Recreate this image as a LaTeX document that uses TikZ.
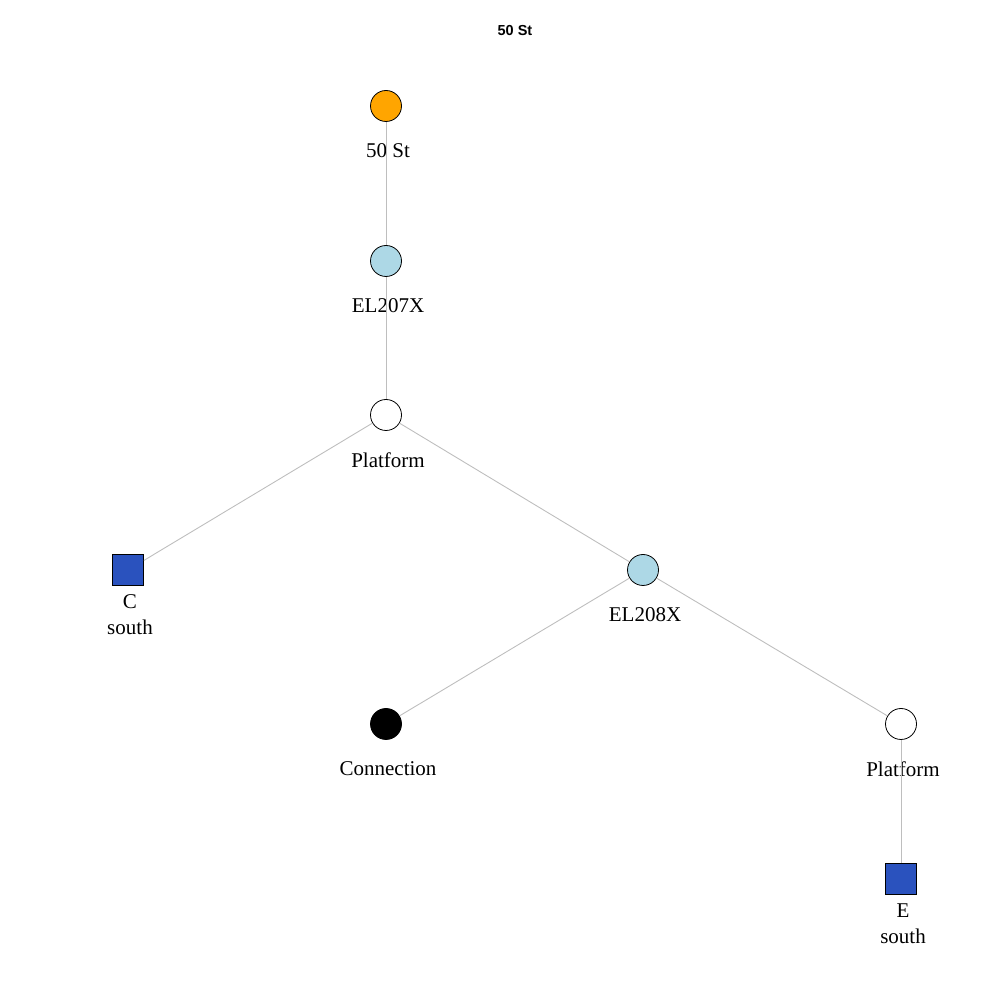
\documentclass[tikz,border=0pt]{standalone}
\usepackage{fontspec}
\setmainfont{Liberation Serif}
\newfontfamily\titlefont{Liberation Sans}
\definecolor{stnorange}{RGB}{255,165,0}
\definecolor{elevblue}{RGB}{173,216,230}
\definecolor{trainblue}{RGB}{42,82,190}
\definecolor{edgegray}{RGB}{190,190,190}
\tikzset{
	lbl/.style={anchor=center,xshift=2pt,yshift=-29pt,align=center,inner sep=0pt,font=\fontsize{21}{26}\selectfont},
	dot/.style 2 args={circle,draw,line width=0.8pt,minimum size=31pt,inner sep=0pt,fill=#1,label={[lbl]-90:{#2}}},
	sq/.style 2 args={rectangle,draw,line width=0.8pt,minimum size=31pt,inner sep=0pt,fill=#1,label={[lbl]-90:{#2}}},
	link/.style={draw=edgegray,line width=0.9pt}
}
\begin{document}
\begin{tikzpicture}[x=1pt,y=1pt]
	\useasboundingbox (0,0) rectangle (1000,1000);
	\node (title) at (515,969) {\titlefont\bfseries\fontsize{14.5}{17}\selectfont 50 St};

	\node [dot={stnorange}{50 St}] (st50) at (386,894) {};
	\node [dot={elevblue}{EL207X}] (el207) at (386,739) {};
	\node [dot={white}{Platform}] (platA) at (386,585) {};
	\node [sq={trainblue}{C\\south}] (trC) at (128,430) {};
	\node [dot={elevblue}{EL208X}] (el208) at (643,430) {};
	\node [dot={black}{Connection}] (conn) at (386,276) {};
	\node [dot={white}{Platform}] (platB) at (901,276) {};
	\node [sq={trainblue}{E\\south}] (trE) at (901,121) {};

	\draw [link] (st50) -- (el207);
	\draw [link] (el207) -- (platA);
	\draw [link] (platA) -- (trC);
	\draw [link] (platA) -- (el208);
	\draw [link] (el208) -- (conn);
	\draw [link] (el208) -- (platB);
	\draw [link] (platB) -- (trE);
\end{tikzpicture}
\end{document}
